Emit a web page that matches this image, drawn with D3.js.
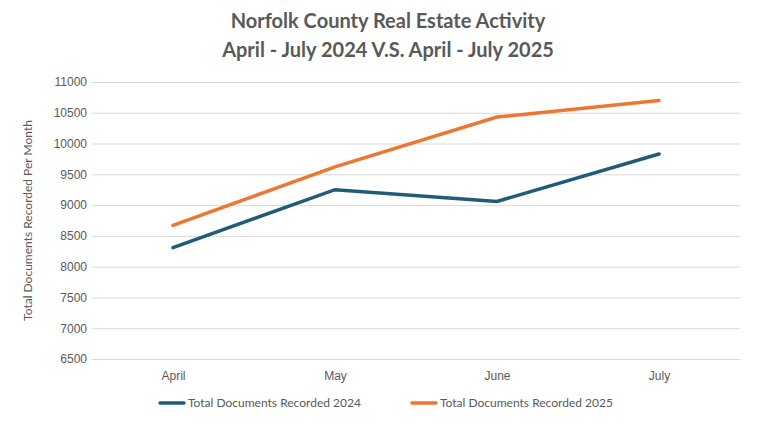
<!DOCTYPE html>
<html><head><meta charset="utf-8">
<script src="https://cdn.jsdelivr.net/npm/d3@7"></script>
<style>body{margin:0;background:#fff;font-family:Lato,"Open Sans",sans-serif;}</style>
</head><body><svg id="c" width="777" height="437"></svg>
<script>
const months = ['April', 'May', 'June', 'July'];
const docs2024 = [8310, 9250, 9060, 9830];
const docs2025 = [8670, 9620, 10430, 10700];
const yTicks = [6500, 7000, 7500, 8000, 8500, 9000, 9500, 10000, 10500, 11000];

const svg = d3.select('#c');
const plotLeft = 92, plotRight = 740, plotTop = 82, plotBottom = 359;

svg.append('text').attr('x', 388).attr('y', 28).attr('text-anchor', 'middle')
  .attr('font-size', 20).attr('font-weight', 'bold').attr('fill', '#595959')
  .text('Norfolk County Real Estate Activity');
svg.append('text').attr('x', 388).attr('y', 57).attr('text-anchor', 'middle')
  .attr('font-size', 20).attr('font-weight', 'bold').attr('fill', '#595959')
  .text('April - July 2024 V.S. April - July 2025');

const x = d3.scalePoint().domain(months).range([plotLeft, plotRight]).padding(0.5);
const y = d3.scaleLinear().domain([6500, 11000]).range([plotBottom, plotTop]);

svg.append('g').attr('transform', `translate(${plotLeft},0)`)
  .call(d3.axisLeft(y).tickValues(yTicks).tickSize(-(plotRight - plotLeft)).tickFormat(d3.format('d')))
  .call(g => g.select('.domain').remove())
  .call(g => g.selectAll('line').attr('stroke', '#d9d9d9'))
  .call(g => g.selectAll('text').attr('fill', '#595959').attr('font-size', 12).attr('dx', -2));

svg.append('g').attr('transform', `translate(0,${plotBottom})`)
  .call(d3.axisBottom(x).tickSize(0).tickPadding(12))
  .call(g => g.select('.domain').attr('stroke', '#d9d9d9'))
  .call(g => g.selectAll('text').attr('fill', '#595959').attr('font-size', 12));

svg.append('text').attr('transform', `translate(32,${(plotTop + plotBottom) / 2}) rotate(-90)`)
  .attr('text-anchor', 'middle').attr('font-size', 12).attr('fill', '#595959')
  .text('Total Documents Recorded Per Month');

const line = d3.line().x((d, i) => x(months[i])).y(d => y(d));
const series = [
  { name: 'Total Documents Recorded 2024', values: docs2024, color: '#1f5c7a' },
  { name: 'Total Documents Recorded 2025', values: docs2025, color: '#ec7733' }
];
series.forEach(s => {
  svg.append('path').datum(s.values).attr('d', line).attr('fill', 'none')
    .attr('stroke', s.color).attr('stroke-width', 3.5).attr('stroke-linecap', 'round');
});

const legX = [160, 412];
series.forEach((s, i) => {
  svg.append('line').attr('x1', legX[i]).attr('x2', legX[i] + 24).attr('y1', 403).attr('y2', 403)
    .attr('stroke', s.color).attr('stroke-width', 3.5).attr('stroke-linecap', 'round');
  svg.append('text').attr('x', legX[i] + 28).attr('y', 407).attr('font-size', 12)
    .attr('fill', '#595959').text(s.name);
});
</script></body></html>
